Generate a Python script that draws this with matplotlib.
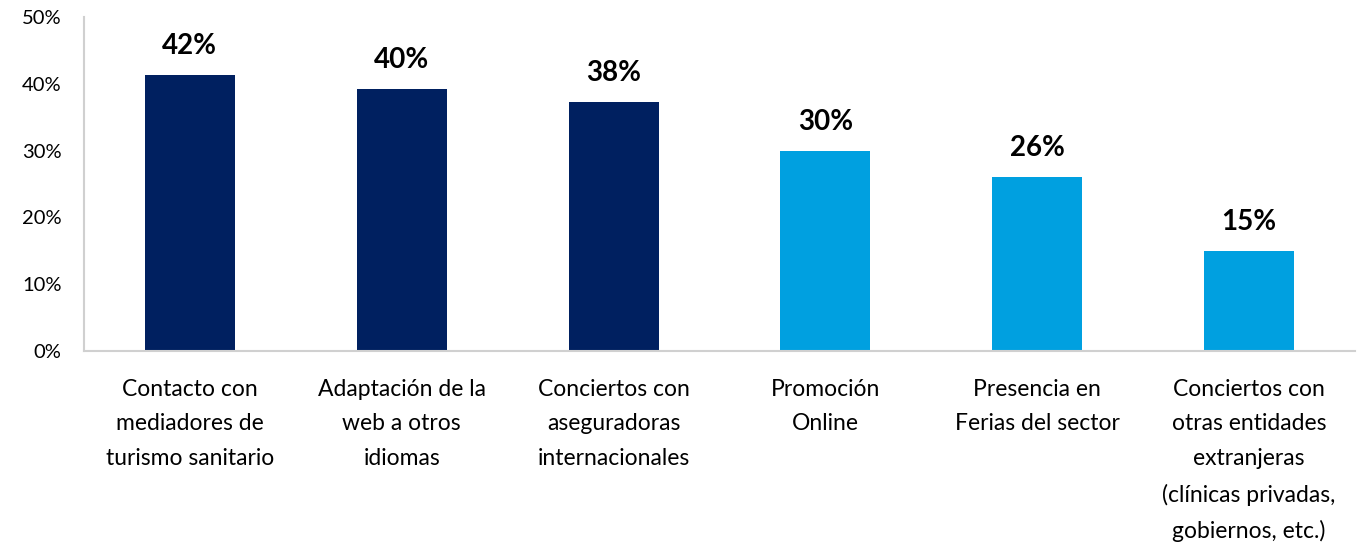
import matplotlib.pyplot as plt
from matplotlib.ticker import FuncFormatter

plt.rcParams['font.family'] = ['Lato', 'DejaVu Sans']

categories = [
    "Contacto con\nmediadores de\nturismo sanitario",
    "Adaptación de la\nweb a otros\nidiomas",
    "Conciertos con\naseguradoras\ninternacionales",
    "Promoción\nOnline",
    "Presencia en\nFerias del sector",
    "Conciertos con\notras entidades\nextranjeras\n(clínicas privadas,\ngobiernos, etc.)",
]
values = [41.3, 39.2, 37.3, 30, 26, 15]
value_labels = ["42%", "40%", "38%", "30%", "26%", "15%"]
bar_colors = ["#002060", "#002060", "#002060", "#00A0E0", "#00A0E0", "#00A0E0"]

fig = plt.figure(figsize=(13.65, 5.48), dpi=100)
ax = fig.add_axes([0.0615, 0.3595, 0.9312, 0.6095])

x = range(len(categories))
bars = ax.bar(x, values, width=0.425, color=bar_colors)

for b, lab in zip(bars, value_labels):
    ax.text(b.get_x() + b.get_width() / 2, b.get_height() + 2.4, lab,
            ha='center', va='bottom', fontsize=20, fontweight='bold')

ax.set_xlim(-0.5, len(categories) - 0.5)
ax.set_ylim(0, 50)
ax.set_yticks(range(0, 51, 10))
ax.yaxis.set_major_formatter(FuncFormatter(lambda v, p: f"{v:.0f}%"))
ax.set_xticks(list(x))
ax.set_xticklabels(categories, fontsize=16.5, linespacing=1.8, va='top')

for s in ['top', 'right']:
    ax.spines[s].set_visible(False)
for s in ['left', 'bottom']:
    ax.spines[s].set_color('#d0d0d0')
    ax.spines[s].set_linewidth(1.5)

ax.tick_params(axis='x', length=0, pad=20)
ax.tick_params(axis='y', length=0, labelsize=14.5, pad=16)

fig.savefig('out.png', dpi=100)
